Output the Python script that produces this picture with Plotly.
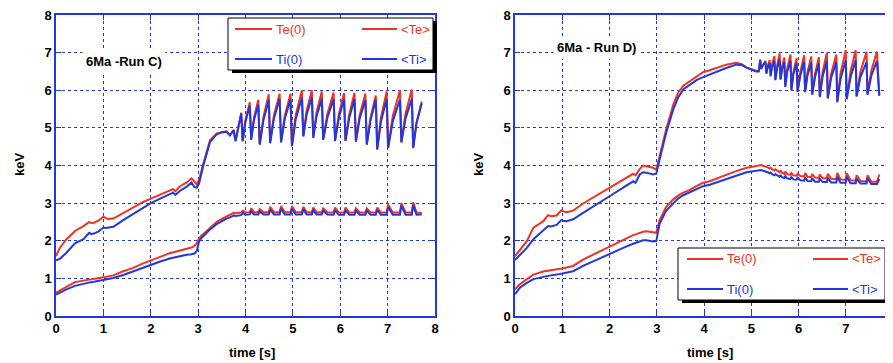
import plotly.graph_objects as go

# the page body adds an 8px margin; the figure is sized so it ends at the window edge
OFF = 8
W, H = 893 - OFF, 363 - OFF

# ---------------- Run C (left panel) ----------------
tC_pre = [0, 0.08, 0.22, 0.40, 0.58, 0.70, 0.74, 0.80, 0.90, 1.00, 1.05, 1.10, 1.21, 1.42, 1.63,
          1.84, 2.00, 2.20, 2.40, 2.47, 2.52, 2.62, 2.76, 2.86, 2.92, 2.97, 3.02, 3.06, 3.11, 3.25,
          3.39, 3.50, 3.60, 3.67, 3.72, 3.75, 3.79]
tC_saw = [3.91, 3.94, 4.00, 4.09, 4.12, 4.18, 4.27, 4.30, 4.38, 4.49, 4.52, 4.60, 4.72, 4.75, 4.83,
          4.95, 4.98, 5.06, 5.19, 5.22, 5.29, 5.40, 5.43, 5.50, 5.61, 5.64, 5.73, 5.86, 5.89, 5.97,
          6.08, 6.11, 6.19, 6.30, 6.33, 6.41, 6.53, 6.56, 6.64, 6.75, 6.78, 6.86, 6.98, 7.01, 7.11,
          7.26, 7.29, 7.38, 7.51, 7.54, 7.61, 7.72]

Te0_C_pre = [1.59, 1.81, 2.04, 2.26, 2.39, 2.50, 2.47, 2.48, 2.54, 2.64, 2.60, 2.58, 2.59, 2.74, 2.88,
             3.03, 3.12, 3.23, 3.35, 3.37, 3.32, 3.45, 3.55, 3.66, 3.58, 3.50, 3.62, 3.85, 4.05, 4.67,
             4.85, 4.89, 4.90, 4.81, 4.90, 4.95, 4.66]
Te0_C_saw = [5.40, 4.66, 5.22, 5.68, 4.70, 5.28, 5.75, 4.57, 5.30, 5.89, 4.61, 5.33, 5.91, 4.63, 5.33,
             5.91, 4.53, 5.34, 6.00, 4.79, 5.46, 6.00, 4.75, 5.42, 5.97, 4.70, 5.38, 5.94, 4.67, 5.36,
             5.93, 4.67, 5.36, 5.93, 4.65, 5.34, 5.91, 4.57, 5.28, 5.86, 4.44, 5.28, 5.97, 4.48, 5.32,
             6.00, 4.63, 5.39, 6.02, 4.48, 5.15, 5.70]

Ti0_C_pre = [1.48, 1.52, 1.68, 1.93, 2.04, 2.21, 2.18, 2.19, 2.25, 2.35, 2.34, 2.35, 2.37, 2.55, 2.72,
             2.88, 3.00, 3.12, 3.25, 3.28, 3.22, 3.33, 3.44, 3.55, 3.43, 3.41, 3.52, 3.78, 4.00, 4.62,
             4.83, 4.88, 4.90, 4.80, 4.88, 4.93, 4.64]
Ti0_C_saw = [5.38, 4.64, 5.17, 5.58, 4.68, 5.21, 5.62, 4.55, 5.21, 5.74, 4.59, 5.25, 5.77, 4.61, 5.25,
             5.75, 4.51, 5.23, 5.80, 4.77, 5.35, 5.80, 4.73, 5.31, 5.77, 4.68, 5.28, 5.76, 4.65, 5.27,
             5.76, 4.65, 5.27, 5.76, 4.63, 5.25, 5.74, 4.55, 5.21, 5.74, 4.42, 5.17, 5.77, 4.46, 5.18,
             5.75, 4.61, 5.26, 5.77, 4.46, 5.12, 5.65]

TeAvg_C_pre = [0.62, 0.68, 0.77, 0.90, 0.94, 0.96, 0.97, 0.98, 1.00, 1.03, 1.04, 1.05, 1.08, 1.19, 1.28,
               1.40, 1.47, 1.57, 1.67, 1.69, 1.71, 1.75, 1.79, 1.82, 1.86, 1.93, 2.06, 2.13, 2.18, 2.35,
               2.50, 2.58, 2.65, 2.70, 2.72, 2.74, 2.73]
TeAvg_C_saw = [2.75, 2.80, 2.75, 2.76, 2.86, 2.76, 2.76, 2.84, 2.76, 2.76, 2.90, 2.76, 2.76, 2.92, 2.76,
               2.76, 2.92, 2.76, 2.76, 2.90, 2.76, 2.76, 2.88, 2.76, 2.76, 2.86, 2.76, 2.75, 2.88, 2.75,
               2.75, 2.88, 2.75, 2.75, 2.86, 2.75, 2.75, 2.86, 2.75, 2.75, 2.88, 2.75, 2.75, 2.96, 2.75,
               2.75, 3.00, 2.75, 2.75, 3.02, 2.75, 2.74]

TiAvg_C_pre = [0.57, 0.62, 0.71, 0.80, 0.86, 0.89, 0.90, 0.91, 0.93, 0.95, 0.96, 0.98, 1.01, 1.09, 1.19,
               1.30, 1.36, 1.45, 1.53, 1.55, 1.57, 1.60, 1.63, 1.64, 1.66, 1.72, 1.98, 2.06, 2.12, 2.30,
               2.44, 2.53, 2.59, 2.62, 2.65, 2.67, 2.66]
TiAvg_C_saw = [2.68, 2.74, 2.69, 2.70, 2.79, 2.70, 2.70, 2.78, 2.70, 2.70, 2.83, 2.70, 2.70, 2.85, 2.70,
               2.70, 2.85, 2.70, 2.70, 2.84, 2.70, 2.70, 2.82, 2.70, 2.70, 2.80, 2.70, 2.69, 2.81, 2.69,
               2.69, 2.81, 2.69, 2.69, 2.80, 2.69, 2.69, 2.80, 2.69, 2.69, 2.82, 2.69, 2.69, 2.89, 2.69,
               2.69, 2.93, 2.69, 2.69, 2.95, 2.69, 2.70]

# ---------------- Run D (right panel) ----------------
tD_pre = [0, 0.11, 0.25, 0.39, 0.60, 0.66, 0.70, 0.76, 0.88, 0.98, 1.02, 1.09, 1.23, 1.44, 1.73,
          2.01, 2.29, 2.50, 2.55, 2.64, 2.71, 2.78, 2.92, 2.99, 3.06, 3.20, 3.35, 3.45, 3.56, 3.70,
          3.84, 3.98, 4.12, 4.26, 4.47, 4.68, 4.80, 4.90, 5.00, 5.10, 5.16]
tD_saw = [5.19, 5.21, 5.25, 5.30, 5.32, 5.35, 5.39, 5.41, 5.44, 5.49, 5.51, 5.55, 5.60, 5.62, 5.65,
          5.70, 5.72, 5.76, 5.83, 5.85, 5.89, 5.96, 5.98, 6.04, 6.12, 6.14, 6.19, 6.27, 6.29, 6.35,
          6.43, 6.45, 6.51, 6.60, 6.62, 6.69, 6.80, 6.82, 6.89, 7.00, 7.02, 7.10, 7.21, 7.23, 7.31,
          7.44, 7.46, 7.54, 7.66, 7.71]

Te0_D_pre = [1.59, 1.77, 1.99, 2.35, 2.52, 2.62, 2.68, 2.65, 2.67, 2.81, 2.78, 2.76, 2.80, 2.99, 3.20,
             3.41, 3.61, 3.78, 3.74, 3.91, 4.00, 3.98, 3.94, 3.89, 4.25, 4.96, 5.62, 5.93, 6.12, 6.24,
             6.37, 6.48, 6.53, 6.59, 6.68, 6.73, 6.69, 6.60, 6.55, 6.52, 6.52]
Te0_D_saw = [6.82, 6.58, 6.69, 6.78, 6.46, 6.65, 6.80, 6.39, 6.68, 6.91, 6.29, 6.67, 6.98, 6.30, 6.61,
             6.87, 6.11, 6.57, 6.95, 6.02, 6.48, 6.85, 5.97, 6.50, 6.93, 5.97, 6.48, 6.90, 5.90, 6.44,
             6.88, 5.84, 6.48, 7.00, 5.80, 6.43, 6.95, 5.70, 6.45, 7.07, 5.78, 6.49, 7.07, 5.85, 6.49,
             7.02, 5.90, 6.52, 7.03, 5.87]

Ti0_D_pre = [1.49, 1.64, 1.81, 2.04, 2.26, 2.34, 2.39, 2.38, 2.42, 2.55, 2.53, 2.52, 2.57, 2.74, 2.96,
             3.19, 3.41, 3.58, 3.54, 3.76, 3.82, 3.81, 3.76, 3.78, 4.16, 4.87, 5.49, 5.80, 6.02, 6.15,
             6.27, 6.35, 6.42, 6.50, 6.59, 6.68, 6.67, 6.60, 6.55, 6.50, 6.50]
Ti0_D_saw = [6.80, 6.56, 6.68, 6.75, 6.44, 6.61, 6.73, 6.37, 6.61, 6.78, 6.27, 6.59, 6.83, 6.28, 6.55,
             6.75, 6.09, 6.48, 6.78, 6.00, 6.41, 6.72, 5.95, 6.40, 6.75, 5.95, 6.39, 6.73, 5.88, 6.35,
             6.72, 5.82, 6.36, 6.78, 5.78, 6.32, 6.75, 5.68, 6.30, 6.80, 5.76, 6.34, 6.80, 5.83, 6.35,
             6.75, 5.88, 6.38, 6.78, 5.85]

TeAvg_D_pre = [0.71, 0.85, 0.98, 1.10, 1.18, 1.19, 1.20, 1.21, 1.23, 1.26, 1.27, 1.29, 1.33, 1.50, 1.68,
               1.86, 2.04, 2.15, 2.17, 2.21, 2.24, 2.25, 2.21, 2.21, 2.55, 2.90, 3.10, 3.20, 3.28, 3.35,
               3.45, 3.54, 3.58, 3.64, 3.75, 3.85, 3.90, 3.94, 3.96, 3.98, 3.99]
TeAvg_D_saw = [4.00, 4.01, 3.99, 3.97, 3.98, 3.95, 3.92, 3.94, 3.90, 3.87, 3.90, 3.86, 3.82, 3.87, 3.81,
               3.78, 3.84, 3.77, 3.75, 3.80, 3.74, 3.73, 3.78, 3.72, 3.71, 3.80, 3.70, 3.69, 3.77, 3.68,
               3.67, 3.76, 3.66, 3.66, 3.78, 3.65, 3.64, 3.80, 3.63, 3.62, 3.80, 3.61, 3.60, 3.74, 3.59,
               3.58, 3.74, 3.57, 3.57, 3.76]

TiAvg_D_pre = [0.58, 0.76, 0.88, 0.98, 1.04, 1.06, 1.07, 1.08, 1.10, 1.12, 1.13, 1.15, 1.19, 1.33, 1.50,
               1.66, 1.81, 1.92, 1.94, 1.98, 2.01, 2.01, 1.98, 1.99, 2.45, 2.80, 3.00, 3.12, 3.21, 3.29,
               3.37, 3.45, 3.49, 3.55, 3.65, 3.74, 3.79, 3.82, 3.84, 3.85, 3.86]
TiAvg_D_saw = [3.87, 3.88, 3.86, 3.84, 3.85, 3.82, 3.79, 3.81, 3.77, 3.74, 3.77, 3.73, 3.70, 3.75, 3.69,
               3.67, 3.72, 3.66, 3.64, 3.69, 3.63, 3.62, 3.67, 3.61, 3.60, 3.68, 3.59, 3.58, 3.66, 3.57,
               3.57, 3.65, 3.56, 3.56, 3.67, 3.55, 3.55, 3.70, 3.54, 3.54, 3.70, 3.53, 3.53, 3.65, 3.52,
               3.52, 3.66, 3.51, 3.51, 3.64]

series_names = ["Te(0)", "<Te>", "Ti(0)", "<Ti>"]
run_titles = ["6Ma -Run C)", "6Ma - Run D)"]
tick_vals = [0, 1, 2, 3, 4, 5, 6, 7, 8]
x_title = "time [s]"
y_title = "keV"

RED = "#ee3322"
BLUE = "#2238dc"
FONT = "Liberation Sans, Arial, Helvetica, sans-serif"

tC = tC_pre + tC_saw
tD = tD_pre + tD_saw
panels = [
    ("x", "y", tC, [Te0_C_pre + Te0_C_saw, TeAvg_C_pre + TeAvg_C_saw,
                    Ti0_C_pre + Ti0_C_saw, TiAvg_C_pre + TiAvg_C_saw]),
    ("x2", "y2", tD, [Te0_D_pre + Te0_D_saw, TeAvg_D_pre + TeAvg_D_saw,
                      Ti0_D_pre + Ti0_D_saw, TiAvg_D_pre + TiAvg_D_saw]),
]
colors = [RED, RED, BLUE, BLUE]

fig = go.Figure()
for xa, ya, t, ys in panels:
    for name, y, c in zip(series_names, ys, colors):
        fig.add_trace(go.Scatter(x=t, y=y, mode="lines", name=name, xaxis=xa, yaxis=ya,
                                 line=dict(color=c, width=2), showlegend=False, hoverinfo="skip"))

def px(x):
    return (x - OFF) / W

def py(y):
    return 1 - (y - OFF) / H

axis_common = dict(range=[0, 8], tickvals=tick_vals, showgrid=True, gridcolor=BLUE, griddash="dot",
                   gridwidth=1, showline=True, linecolor=BLUE, linewidth=1.5, mirror="ticks",
                   ticks="inside", ticklen=5, tickcolor=BLUE, tickwidth=1, zeroline=False,
                   automargin=False, fixedrange=True, ticklabeloverflow="allow",
                   tickfont=dict(family=FONT, size=13, color="black", weight="bold"))

ydom = [py(316), py(15)]
fig.update_layout(
    width=W, height=H, margin=dict(l=0, r=0, t=0, b=0),
    paper_bgcolor="white", plot_bgcolor="white", showlegend=False,
    xaxis=dict(domain=[px(56), px(435)], anchor="y", **axis_common),
    yaxis=dict(domain=ydom, anchor="x", **axis_common),
    xaxis2=dict(domain=[px(515), 1.0], anchor="y2", **axis_common),
    yaxis2=dict(domain=ydom, anchor="x2", **axis_common),
)

annotations = []
shapes = []

def note(text, cx, cy, **kw):
    d = dict(text=text, x=px(cx), y=py(cy), xref="paper", yref="paper", showarrow=False,
             xanchor="center", yanchor="middle")
    d.update(kw)
    annotations.append(d)

# axis titles
for cx in (19, 478):
    note("<b>%s</b>" % y_title, cx, 165, textangle=-90, font=dict(family=FONT, size=13, color="black"))
for cx in (252, 710):
    note("<b>%s</b>" % x_title, cx, 352, font=dict(family=FONT, size=13, color="black"))

# run titles
for (cx, cy), txt in zip([(124, 61), (596, 48)], run_titles):
    note("<b>%s</b>" % txt, cx, cy, bgcolor="white", borderpad=3,
         font=dict(family=FONT, size=13, color="black"))

# legend boxes (with drop shadow)
legend_boxes = [
    dict(box=(228, 18, 433, 70), rows=(29, 59), cols=((235, 272, 274), (362, 397, 399))),
    dict(box=(678, 248, 885, 300), rows=(259, 289), cols=((687, 723, 725), (813, 848, 850))),
]
for lb in legend_boxes:
    x0, y0, x1, y1 = lb["box"]
    shapes.append(dict(type="rect", xref="paper", yref="paper", x0=px(x0 + 4), x1=px(x1 + 4),
                       y0=py(y1 + 3), y1=py(y0 + 3), fillcolor="black", line=dict(width=0), layer="above"))
    shapes.append(dict(type="rect", xref="paper", yref="paper", x0=px(x0), x1=px(x1),
                       y0=py(y1), y1=py(y0), fillcolor="white", line=dict(color="black", width=1),
                       layer="above"))
    idx = 0
    for ry, row_colors in zip(lb["rows"], ((RED, RED), (BLUE, BLUE))):
        for (lx0, lx1, tx), c in zip(lb["cols"], row_colors):
            name = series_names[idx]
            idx += 1
            shapes.append(dict(type="line", xref="paper", yref="paper", x0=px(lx0), x1=px(lx1),
                               y0=py(ry), y1=py(ry), line=dict(color=c, width=2), layer="above"))
            note(name.replace("<", "&lt;").replace(">", "&gt;"), tx, ry, xanchor="left",
                 font=dict(family=FONT, size=13, color=c))

fig.update_layout(annotations=annotations, shapes=shapes)
fig.write_html("out.html")
